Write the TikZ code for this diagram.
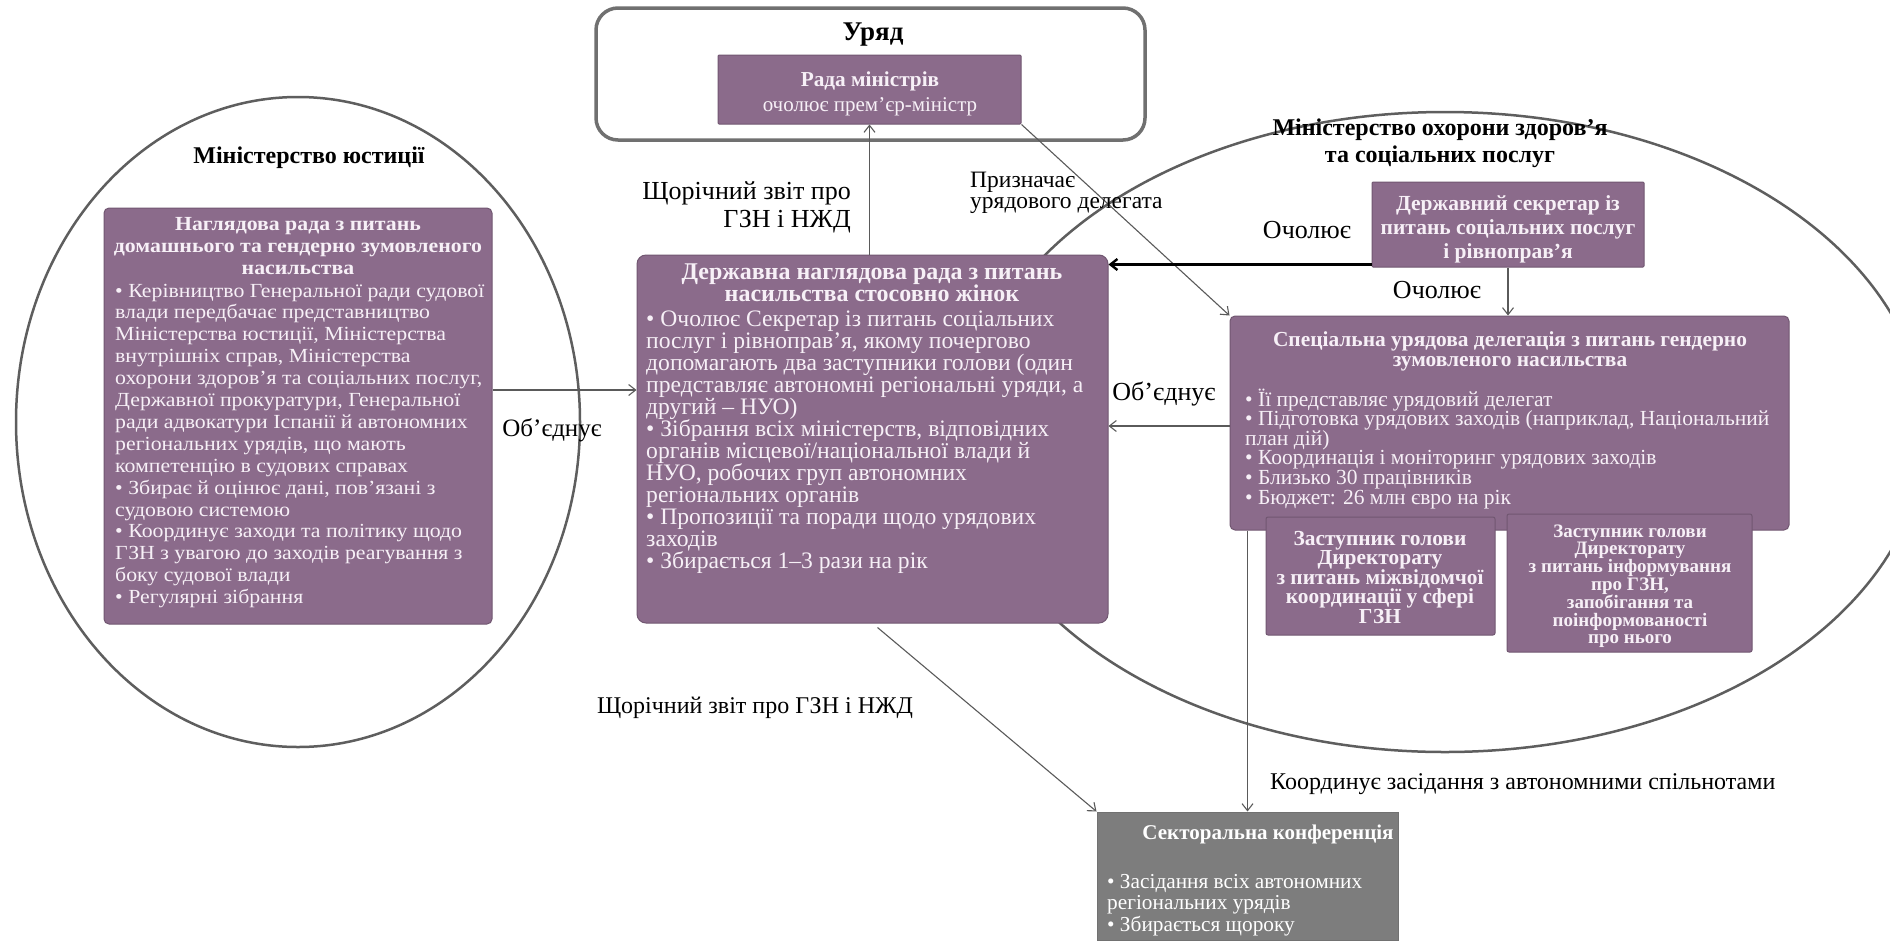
\documentclass[tikz,border=0pt]{standalone}
\usepackage{fontspec}
\setmainfont{Liberation Serif}
\newfontfamily\wideserif[FakeStretch=1.09]{Liberation Serif}
\usetikzlibrary{arrows.meta,shapes.geometric,calc}
\definecolor{boxpurple}{HTML}{8B6B8B}
\definecolor{boxedge}{HTML}{715771}
\definecolor{boxtext}{HTML}{F7F0F7}
\definecolor{secgray}{HTML}{7D7D7D}
\definecolor{ellgray}{HTML}{5E5E5E}
\definecolor{govedge}{HTML}{707070}
\definecolor{arrgray}{HTML}{5A5A5A}
\begin{document}
\begin{tikzpicture}[x=1pt,y=-1pt,
 pbox/.style={draw=boxedge, line width=1pt, fill=boxpurple, rounded corners=5pt, inner sep=0pt},
 gbox/.style={draw=secgray!90!black, line width=1pt, fill=secgray, inner sep=0pt},
 ptext/.style={text=boxtext, inner sep=0pt},
 ellline/.style={draw=ellgray, line width=2.5pt, ellipse, inner sep=0pt},
 conn/.style={draw=arrgray, line width=1.1pt, -{Straight Barb[length=7pt,width=11pt]}},
 heavyline/.style={draw=black, line width=2.4pt, -{Straight Barb[length=7pt,width=11pt]}},
 lbl/.style={text=black, inner sep=0pt},
]
\useasboundingbox (0,0) rectangle (1890,943);
\fill[white] (0,0) rectangle (1890,943);

% ministries (ellipses)
\node[ellline, minimum width=564pt, minimum height=650pt] (just) at (298,422) {};
\node[ellline, minimum width=960pt, minimum height=640pt] (health) at (1445,432) {};

% government
\node[draw=govedge, line width=3.5pt, rounded corners=22pt, minimum width=549pt, minimum height=132pt, inner sep=0pt] (gov) at (870.5,74) {};
\node[lbl, anchor=base, font=\fontsize{27}{30}\selectfont\bfseries] (govlbl) at (873,40) {Уряд};
\node[pbox, rounded corners=1pt, minimum width=303pt, minimum height=69pt] (rada) at (869.5,89.5) {};
\node[ptext, anchor=base, font=\fontsize{21.3}{25}\selectfont\bfseries] (radat) at (870,86) {Рада міністрів};
\node[ptext, anchor=base, font=\fontsize{21}{25}\selectfont] (radab) at (870,111) {очолює прем’єр-міністр};

% justice (multi-line nodes: base = baseline of last line)
\node[lbl, anchor=base, font=\fontsize{24}{27}\selectfont\bfseries] (justlbl) at (309,163) {Міністерство юстиції};
\node[pbox, minimum width=388pt, minimum height=416pt] (jbox) at (298,416) {};
\node[ptext, anchor=base, align=center, font=\wideserif\fontsize{20}{22}\selectfont\bfseries] (jtitle) at (298,274) {Наглядова рада з питань\\домашнього та гендерно зумовленого\\насильства};
\node[ptext, anchor=base west, align=left, font=\wideserif\fontsize{20}{21.9}\selectfont] (jbody) at (115,603.6) {• Керівництво Генеральної ради судової\\влади передбачає представництво\\Міністерства юстиції, Міністерства\\внутрішніх справ, Міністерства\\охорони здоров’я та соціальних послуг,\\Державної прокуратури, Генеральної\\ради адвокатури Іспанії й автономних\\регіональних урядів, що мають\\компетенцію в судових справах\\• Збирає й оцінює дані, пов’язані з\\судовою системою\\• Координує заходи та політику щодо\\ГЗН з увагою до заходів реагування з\\боку судової влади\\• Регулярні зібрання};

% central board
\node[pbox, rounded corners=9pt, minimum width=471pt, minimum height=368pt] (cbox) at (872.5,439) {};
\node[ptext, anchor=base, align=center, font=\fontsize{24}{22}\selectfont\bfseries] (ctitle) at (872,301) {Державна наглядова рада з питань\\насильства стосовно жінок};
\node[ptext, anchor=base west, align=left, font=\fontsize{23.6}{22}\selectfont] (cbody) at (646,568) {• Очолює Секретар із питань соціальних\\послуг і рівноправ’я, якому почергово\\допомагають два заступники голови (один\\представляє автономні регіональні уряди, а\\другий – НУО)\\• Зібрання всіх міністерств, відповідних\\органів місцевої/національної влади й\\НУО, робочих груп автономних\\регіональних органів\\• Пропозиції та поради щодо урядових\\заходів\\• Збирається 1–3 рази на рік};

% health ministry
\node[lbl, anchor=base, align=center, font=\fontsize{24}{27}\selectfont\bfseries] (hlbl) at (1440,162) {Міністерство охорони здоров’я\\та соціальних послуг};
\node[pbox, rounded corners=1pt, minimum width=272pt, minimum height=85pt] (dsec) at (1508,224.5) {};
\node[ptext, anchor=base, align=center, font=\fontsize{21.5}{24}\selectfont\bfseries] (dsect) at (1508,258) {Державний секретар із\\питань соціальних послуг\\і рівноправ’я};
\node[pbox, minimum width=559pt, minimum height=214pt] (spec) at (1509.5,423) {};
\node[ptext, anchor=base, align=center, font=\fontsize{21.4}{20}\selectfont\bfseries] (spect) at (1510,366) {Спеціальна урядова делегація з питань гендерно\\зумовленого насильства};
\node[ptext, anchor=base west, align=left, font=\fontsize{21.5}{19.6}\selectfont] (specb) at (1245,504) {• Її представляє урядовий делегат\\• Підготовка урядових заходів (наприклад, Національний\\план дій)\\• Координація і моніторинг урядових заходів\\• Близько 30 працівників\\• Бюджет: 26 млн євро на рік};
\node[pbox, rounded corners=2pt, minimum width=229pt, minimum height=118pt] (sub1) at (1380.5,576) {};
\node[ptext, anchor=base, align=center, font=\fontsize{21.4}{19.5}\selectfont\bfseries] (sub1t) at (1380,623) {Заступник голови\\Директорату\\з питань міжвідомчої\\координації у сфері\\ГЗН};
\node[pbox, rounded corners=2pt, minimum width=245pt, minimum height=138pt] (sub2) at (1629.5,583) {};
\node[ptext, anchor=base, align=center, font=\fontsize{19}{17.2}\selectfont\bfseries] (sub2t) at (1630,643.2) {Заступник голови\\Директорату\\з питань інформування\\про ГЗН,\\запобігання та\\поінформованості\\про нього};

% sectoral conference
\node[gbox, minimum width=301pt, minimum height=128pt] (sect) at (1247.5,876) {};
\node[ptext, text=white, anchor=base, font=\fontsize{21}{24}\selectfont\bfseries] (sectt) at (1268,839) {Секторальна конференція};
\node[ptext, text=white, anchor=base west, align=left, font=\fontsize{21.3}{21.5}\selectfont] (sectb) at (1107,931) {• Засідання всіх автономних\\регіональних урядів\\• Збирається щороку};

% connectors
\draw[conn] (rada.south |- cbox.north) -- (rada.south);
\draw[conn] (rada.south east) -- (spec.north west);
\draw[heavyline] ([yshift=3pt]dsec.south west) -- ([yshift=3pt]dsec.south west -| cbox.east);
\draw[conn] (dsec.south) -- (dsec.south |- spec.north);
\draw[conn] ([yshift=-3pt]spec.west) -- ([yshift=-3pt]spec.west -| cbox.east);
\draw[conn] ([yshift=26pt]jbox.east) -- ([yshift=26pt]jbox.east -| cbox.west);
\draw[conn] ([xshift=5pt,yshift=-4pt]cbox.south) -- (sect.north west);
\draw[conn] (sect.north |- spec.south) -- (sect.north);

% connector labels
\node[lbl, anchor=base east, align=right, font=\fontsize{26}{28}\selectfont] (l1) at (851,227) {Щорічний звіт про\\ГЗН і НЖД};
\node[lbl, anchor=base west, align=left, font=\fontsize{23.5}{21}\selectfont] (l2) at (970,208) {Призначає\\урядового делегата};
\node[lbl, anchor=base, font=\fontsize{26}{28}\selectfont] (l3) at (1307,238) {Очолює};
\node[lbl, anchor=base, font=\fontsize{26}{28}\selectfont] (l4) at (1437,298) {Очолює};
\node[lbl, anchor=base, font=\fontsize{26}{28}\selectfont] (l5) at (1164,400) {Об’єднує};
\node[lbl, anchor=base, font=\fontsize{25}{28}\selectfont] (l6) at (552,436) {Об’єднує};
\node[lbl, anchor=base, font=\fontsize{24}{26}\selectfont] (l7) at (755,713) {Щорічний звіт про ГЗН і НЖД};
\node[lbl, anchor=base west, font=\fontsize{24}{26}\selectfont] (l8) at (1270,789) {Координує засідання з автономними спільнотами};
\end{tikzpicture}
\end{document}
